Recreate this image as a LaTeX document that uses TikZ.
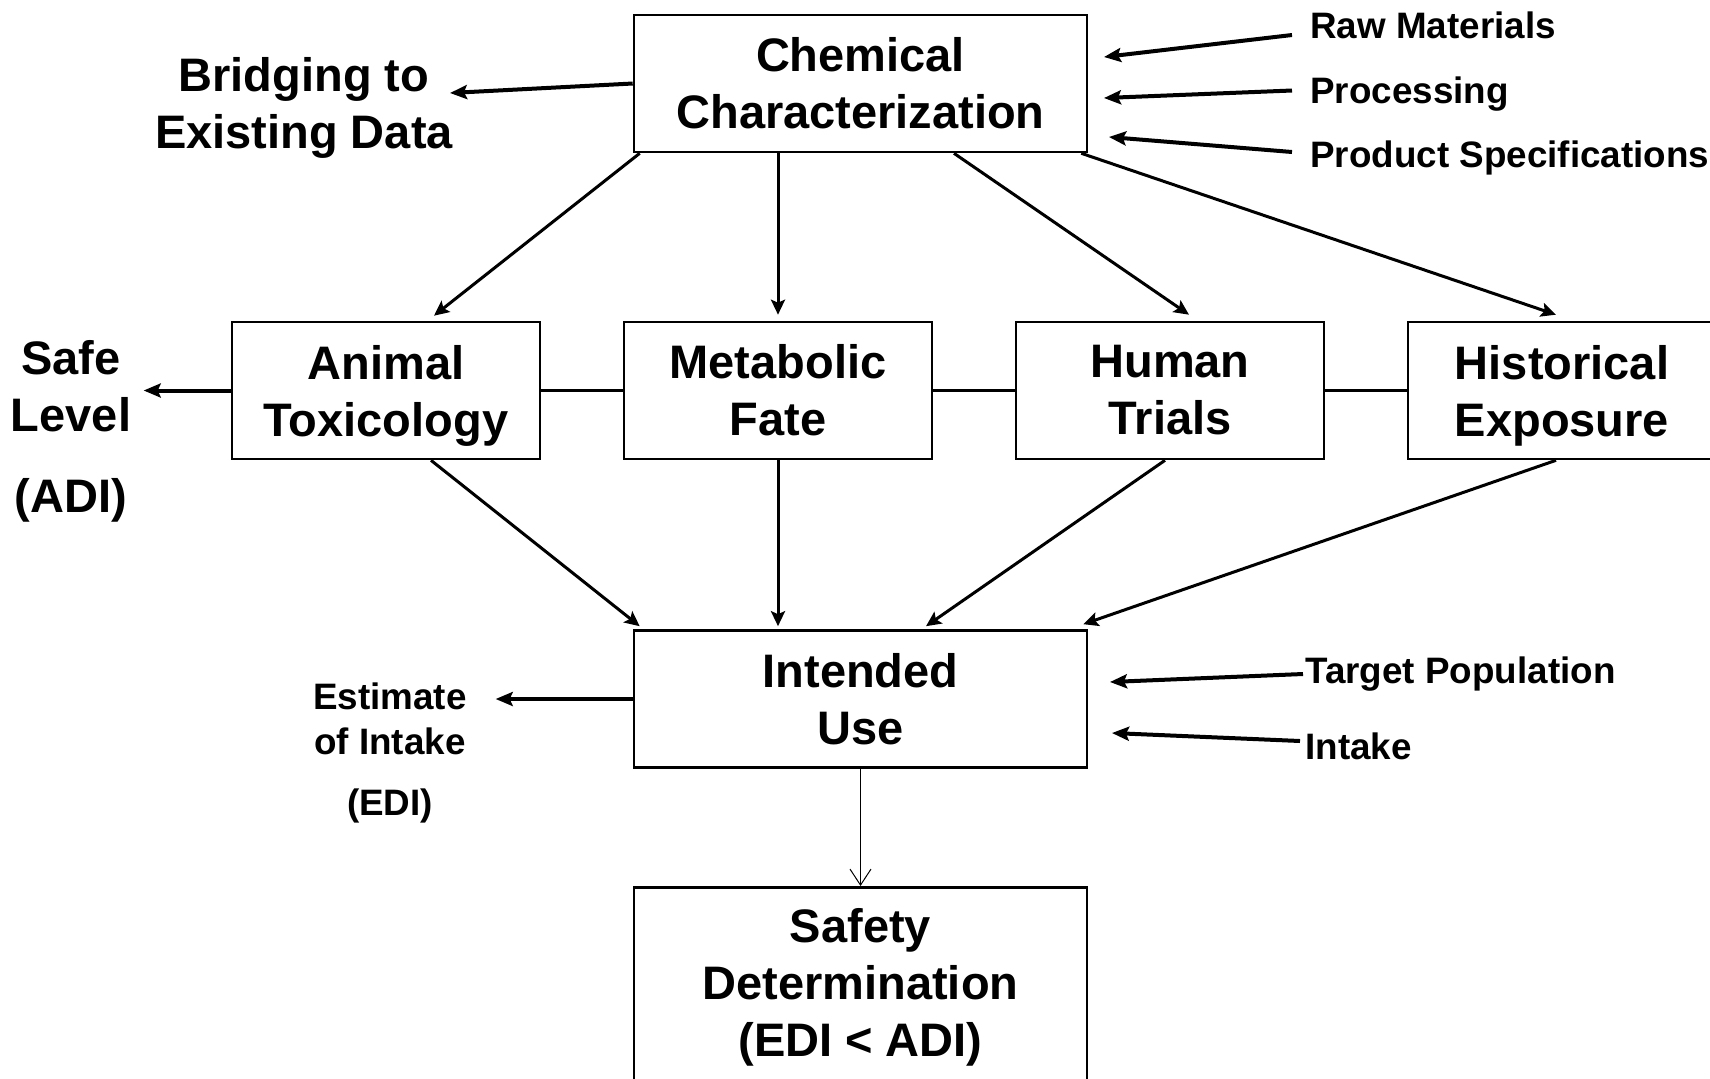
\documentclass[tikz,border=0pt]{standalone}
\usepackage{fontspec}
\setmainfont{Liberation Sans}
\usepackage{tikz}
\usetikzlibrary{arrows.meta,calc,positioning}

\newcommand{\bigtext}{\fontsize{23.5}{28.5}\selectfont\bfseries}
\newcommand{\smalltext}{\fontsize{18.4}{22.5}\selectfont\bfseries}

\tikzset{
  box/.style={draw, line width=1.3pt, minimum width=154pt, minimum height=68.5pt,
    inner sep=0pt, align=center, font=\bigtext},
  widebox/.style={box, minimum width=226.5pt},
  arr/.style={line width=2pt, -{Stealth[length=8.5pt,width=7pt,inset=1.5pt]}},
  thinarr/.style={line width=1.5pt, -{Stealth[length=7.5pt,width=7pt,inset=1.5pt]}},
  openarr/.style={line width=0.5pt, -{Straight Barb[length=8pt,width=10.5pt]}},
  link/.style={line width=1.8pt},
  lbl/.style={align=center, font=\bigtext, inner sep=0pt},
  note/.style={anchor=base west, font=\smalltext, inner sep=0pt},
}

\begin{document}
\begin{tikzpicture}[x=0.5pt,y=-0.5pt]
        \clip (0,0) rectangle (1710,1078);
        \node[widebox] (chem) at (860.5,83.5) {Chemical\\Characterization};
        \node[box, text depth=0pt] (anim) at (386,390.5) {Animal\\Toxicology};
        \node[box] (meta) at (778,390.5) {Metabolic\\Fate};
        \node[box] (human) at (1170,390.5) {Human\\Trials};
        \node[box, text depth=0pt] (hist) at (1562,390.5) {Historical\\Exposure};
        \node[widebox] (use) at (860.5,699) {Intended\\Use};
        \node[widebox, minimum height=100pt, anchor=north] (safety) at (860.5,886) {Safety\\Determination\\(EDI < ADI)};
        \node[lbl] (bridge) at (304,108) {Bridging to\\Existing Data};
        \node[lbl] (safe) at (71,431) {Safe\\Level\\[12pt](ADI)};
        \node[lbl, font=\smalltext] (estimate) at (390,752.5) {Estimate\\of Intake\\[8pt](EDI)};
        \node[note] (raw) at (1310,38) {Raw Materials};
        \node[note] (proc) at (1310,103.5) {Processing};
        \node[note] (spec) at (1310,167) {Product Specifications};
        \node[note] (pop) at (1305,683) {Target Population};
        \node[note] (intake) at (1305,759) {Intake};
        \coordinate (rawtip) at (1104,57);
        \coordinate (proctip) at (1104,98);
        \coordinate (spectip) at (1109,137);
        \coordinate (poptip) at (1110,682);
        \coordinate (intaketip) at (1112,733);
        \coordinate (bridgetip) at (450,93);
        \coordinate (safetip) at ($(anim.west)+(-87,0)$);
        \coordinate (editip) at ($(use.west)+(-137,0)$);
        \draw[arr] ($(raw.base west)+(-18,-3)$) -- (rawtip);
        \draw[arr] ($(proc.base west)+(-18,-13)$) -- (proctip);
        \draw[arr] ($(spec.base west)+(-18,-15)$) -- (spectip);
        \draw[arr] ($(pop.base west)+(-2,-9)$) -- (poptip);
        \draw[arr] ($(intake.base west)+(-5,-18)$) -- (intaketip);
        \draw[arr] (chem.west) -- (bridgetip);
        \draw[arr] (anim.west) -- (safetip);
        \draw[arr] (use.west) -- (editip);
        \draw[link] (anim) -- (meta);
        \draw[link] (meta) -- (human);
        \draw[link] (human) -- (hist);
        \draw[thinarr] ($(chem.south west)+(7,0)$) -- ($(anim.north)+(48,-5)$);
        \draw[thinarr] (chem.south -| meta) -- ($(meta.north)+(0,-6)$);
        \draw[thinarr] ($(chem.south)+(93.5,0)$) -- ($(human.north)+(19,-6)$);
        \draw[thinarr] ($(chem.south east)+(-7,0)$) -- ($(hist.north)+(-6,-6)$);
        \draw[thinarr] ($(anim.south)+(45,0)$) -- ($(use.north west)+(7,-3)$);
        \draw[thinarr] (meta.south) -- ($(meta.south |- use.north)+(0,-3)$);
        \draw[thinarr] ($(human.south)+(-5,0)$) -- ($(use.north)+(65.5,-3)$);
        \draw[thinarr] ($(hist.south)+(-6,0)$) -- ($(use.north east)+(-5,-5)$);
        \draw[openarr] (use) -- (safety);
    \end{tikzpicture}
\end{document}
